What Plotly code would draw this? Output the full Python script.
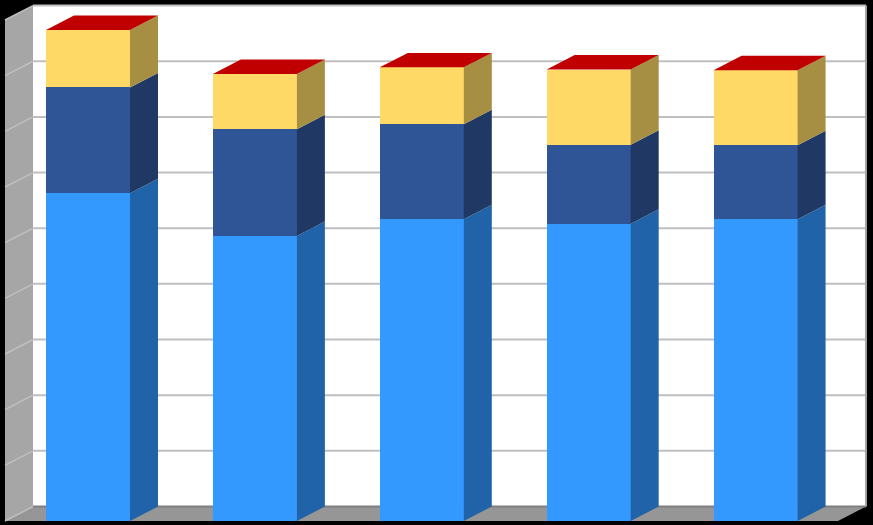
import plotly.graph_objects as go

# values, in grid units where one gridline step = 10
categories = [0, 1, 2, 3, 4]
light_blue = [58.9, 51.2, 54.2, 53.4, 54.2]
dark_blue = [19.0, 19.2, 17.1, 14.2, 13.3]
yellow = [10.3, 9.9, 10.2, 13.5, 13.5]
grid_ticks = [0, 10, 20, 30, 40, 50, 60, 70, 80, 90]

series = [
    ("Series 1", light_blue, "#3399FF", "#2063A8"),
    ("Series 2", dark_blue, "#2F5597", "#1F3864"),
    ("Series 3", yellow, "#FFD966", "#A68F42"),
]
top_colour = "#C00000"

BAR_WIDTH = 0.5033
DEPTH_X = 0.1677
DEPTH_Y = 2.6
WALL_LEFT = -0.4973
WALL_RIGHT = 4.4936
Y_TOP = max(grid_ticks)


def poly_path(points):
    return "M " + " L ".join(f"{x} {y}" for x, y in points) + " Z"


def add_poly(shapes, points, colour):
    shapes.append(dict(type="path", xref="x", yref="y", layer="below", path=poly_path(points),
                       fillcolor=colour, line=dict(width=0)))


shapes = []
left_front = WALL_LEFT
left_back = WALL_LEFT + DEPTH_X
right_front = WALL_RIGHT
right_back = WALL_RIGHT + DEPTH_X

# back wall, side wall and floor
add_poly(shapes, [(left_back, DEPTH_Y), (right_back, DEPTH_Y), (right_back, Y_TOP + DEPTH_Y), (left_back, Y_TOP + DEPTH_Y)], "#FFFFFF")
add_poly(shapes, [(left_front, 0), (left_back, DEPTH_Y), (left_back, Y_TOP + DEPTH_Y), (left_front, Y_TOP)], "#A6A6A6")
add_poly(shapes, [(left_front, 0), (left_back, DEPTH_Y), (right_back, DEPTH_Y), (right_front, 0)], "#969696")

for tick in grid_ticks:
    colour = "#7F7F7F" if tick == 0 else "#BFBFBF"
    shapes.append(dict(type="line", xref="x", yref="y", layer="below", x0=left_back, x1=right_back,
                       y0=tick + DEPTH_Y, y1=tick + DEPTH_Y, line=dict(color=colour, width=2)))
    shapes.append(dict(type="line", xref="x", yref="y", layer="below", x0=left_front, x1=left_back,
                       y0=tick, y1=tick + DEPTH_Y, line=dict(color="#BFBFBF", width=1.5)))

shapes.append(dict(type="line", xref="x", yref="y", layer="below", x0=right_back, x1=right_back,
                   y0=DEPTH_Y, y1=Y_TOP + DEPTH_Y, line=dict(color="#A6A6A6", width=2)))

fig = go.Figure()

for name, values, front, _ in series:
    fig.add_trace(go.Bar(x=categories, y=values, name=name, width=BAR_WIDTH, marker=dict(color=front, line=dict(width=0))))

# side faces of each segment
base = [0] * len(categories)
for name, values, _, side in series:
    for cat, b, v in zip(categories, base, values):
        right = cat + BAR_WIDTH / 2
        fig.add_trace(go.Scatter(
            x=[right, right + DEPTH_X, right + DEPTH_X, right, right],
            y=[b, b + DEPTH_Y, b + v + DEPTH_Y, b + v, b],
            mode="lines", fill="toself", fillcolor=side, line=dict(width=0), hoverinfo="skip",
        ))
    base = [b + v for b, v in zip(base, values)]

# red lids
for cat, total in zip(categories, base):
    left = cat - BAR_WIDTH / 2
    right = cat + BAR_WIDTH / 2
    fig.add_trace(go.Scatter(
        x=[left, right, right + DEPTH_X, left + DEPTH_X, left],
        y=[total, total, total + DEPTH_Y, total + DEPTH_Y, total],
        mode="lines", fill="toself", fillcolor=top_colour, line=dict(width=0), hoverinfo="skip",
    ))

fig.update_layout(
    width=873,
    height=525,
    margin=dict(l=0, r=0, t=0, b=0),
    barmode="stack",
    showlegend=False,
    paper_bgcolor="#000000",
    plot_bgcolor="#000000",
    shapes=shapes,
    xaxis=dict(range=[-0.5273, 4.7034], visible=False, fixedrange=True),
    yaxis=dict(range=[-0.72, 93.6], visible=False, fixedrange=True),
)

fig.write_html("out.html", config=dict(displayModeBar=False), post_script="document.body.style.margin='0';")
